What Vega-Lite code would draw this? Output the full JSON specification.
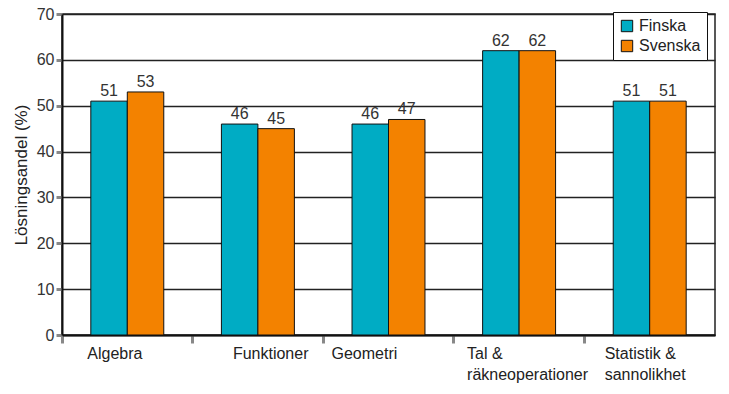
{
  "$schema": "https://vega.github.io/schema/vega-lite/v6.json",
  "width": 653,
  "height": 321,
  "autosize": "none",
  "padding": {"left": 62, "top": 14, "right": 14, "bottom": 59},
  "background": "white",
  "config": {
    "font": "Liberation Sans, Arial, sans-serif",
    "view": {"stroke": "#222", "strokeWidth": 1.5}
  },
  "data": {
    "values": [
      {"area": "Algebra", "lang": "Finska", "value": 51},
      {"area": "Algebra", "lang": "Svenska", "value": 53},
      {"area": "Funktioner", "lang": "Finska", "value": 46},
      {"area": "Funktioner", "lang": "Svenska", "value": 45},
      {"area": "Geometri", "lang": "Finska", "value": 46},
      {"area": "Geometri", "lang": "Svenska", "value": 47},
      {"area": "Tal & räkneoperationer", "lang": "Finska", "value": 62},
      {"area": "Tal & räkneoperationer", "lang": "Svenska", "value": 62},
      {"area": "Statistik & sannolikhet", "lang": "Finska", "value": 51},
      {"area": "Statistik & sannolikhet", "lang": "Svenska", "value": 51}
    ]
  },
  "encoding": {
    "x": {
      "field": "area",
      "type": "nominal",
      "sort": null,
      "scale": {"paddingInner": 0, "paddingOuter": 0},
      "axis": {
        "title": null,
        "labelAngle": 0,
        "bandPosition": 0,
        "tickSize": 8,
        "tickWidth": 3,
        "tickColor": "#888",
        "domainColor": "#111",
        "domainWidth": 2,
        "labelFontSize": 16,
        "labelColor": "#222",
        "labelPadding": 2,
        "labelLineHeight": 21,
        "labelBaseline": "top",
        "labelAlign": "left",
        "labelOffset": {"expr": "datum.value == 'Algebra' ? -40 : datum.value == 'Funktioner' ? -25 : datum.value == 'Geometri' ? -57 : datum.value == 'Tal & räkneoperationer' ? -52 : -45"},
        "labelExpr": "indexof(datum.label, '&') > 0 ? [substring(datum.label, 0, indexof(datum.label, '&') + 1), substring(datum.label, indexof(datum.label, '&') + 2)] : datum.label"
      }
    },
    "xOffset": {
      "field": "lang",
      "sort": ["Finska", "Svenska"],
      "scale": {"paddingInner": 0, "paddingOuter": 0.79}
    },
    "y": {
      "field": "value",
      "type": "quantitative",
      "scale": {"domain": [0, 70]},
      "axis": {
        "values": [0, 10, 20, 30, 40, 50, 60, 70],
        "tickSize": 6,
        "tickWidth": 3,
        "tickColor": "#888",
        "domainColor": "#111",
        "domainWidth": 2,
        "gridColor": "#222",
        "gridWidth": 1.5,
        "labelFontSize": 16,
        "labelColor": "#333",
        "labelPadding": 2,
        "title": "Lösningsandel (%)",
        "titleFontSize": 17,
        "titleFontWeight": "normal",
        "titleColor": "#222",
        "titlePadding": 6
      }
    }
  },
  "layer": [
    {
      "mark": {"type": "bar", "stroke": "#111", "strokeWidth": 1},
      "encoding": {
        "color": {
          "field": "lang",
          "type": "nominal",
          "scale": {"domain": ["Finska", "Svenska"], "range": ["#00acc4", "#f38200"]},
          "legend": {
            "orient": "none",
            "legendX": 551,
            "legendY": -2,
            "title": null,
            "strokeColor": "#111",
            "fillColor": "white",
            "padding": 6,
            "symbolType": "square",
            "symbolSize": 130,
            "symbolStrokeColor": "#111",
            "symbolStrokeWidth": 1,
            "labelFontSize": 16,
            "labelColor": "#222",
            "rowPadding": 4
          }
        }
      }
    },
    {
      "mark": {"type": "text", "baseline": "bottom", "dy": -2, "fontSize": 16, "color": "#333"},
      "encoding": {"text": {"field": "value", "type": "quantitative"}}
    }
  ]
}
